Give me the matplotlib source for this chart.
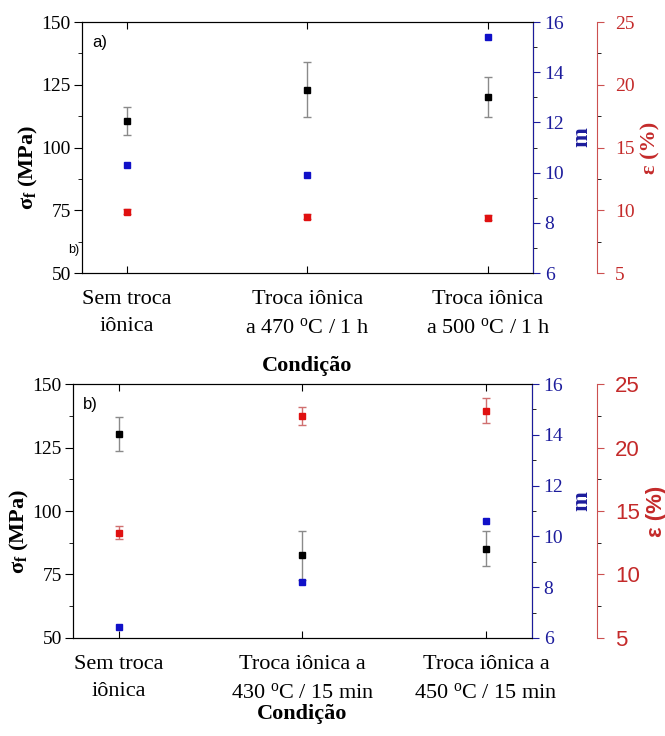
import matplotlib

matplotlib.use("Agg")
import matplotlib.pyplot as plt
from matplotlib.ticker import MultipleLocator

plt.rcParams["font.family"] = ["Liberation Serif", "DejaVu Serif"]
plt.rcParams["mathtext.fontset"] = "custom"
plt.rcParams["mathtext.rm"] = "Liberation Serif"
plt.rcParams["mathtext.bf"] = "Liberation Serif:bold"
plt.rcParams["mathtext.it"] = "Liberation Serif:italic"

# ---- data -------------------------------------------------------------
cond_a = ["Sem troca\niônica",
          "Troca iônica\na 470 $^{\\rm o}$C / 1 h",
          "Troca iônica\na 500 $^{\\rm o}$C / 1 h"]
sigma_a = [110.5, 123.0, 120.0]
sigma_a_err = [5.5, 11.0, 8.0]
m_a = [10.3, 9.9, 15.4]
eps_a = [9.9, 9.5, 9.4]
eps_a_err = [0.2, 0.2, 0.2]

cond_b = ["Sem troca\niônica",
          "Troca iônica a\n430 $^{\\rm o}$C / 15 min",
          "Troca iônica a\n450 $^{\\rm o}$C / 15 min"]
sigma_b = [130.2, 82.6, 85.2]
sigma_b_err = [6.7, 9.7, 7.0]
m_b = [6.45, 8.2, 10.6]
eps_b = [13.3, 22.5, 22.9]
eps_b_err = [0.5, 0.7, 1.0]

BLUE = "#1c1c9c"
RED = "#c42a2a"
RED_SPINE = "#cc5050"


def panel(fig, rect, tag, cond, sigma, sigma_err, m, eps, eps_err, eps_font,
          xlab_pad, ylab_x):
    ax = fig.add_axes(rect)
    x = range(len(cond))

    ax.errorbar(x, sigma, yerr=sigma_err, fmt="s", ms=4.5, color="black",
                ecolor="#8a8a8a", elinewidth=1, capsize=3, zorder=5)
    ax.set_xlim(-0.25, 2.25)
    ax.set_ylim(50, 150)
    ax.yaxis.set_major_locator(MultipleLocator(25))
    ax.yaxis.set_minor_locator(MultipleLocator(12.5))
    ax.set_xticks(list(x))
    ax.set_xticklabels(cond, fontsize=16, linespacing=1.6)
    ax.tick_params(axis="x", direction="in", top=True, length=5, pad=12)
    ax.tick_params(axis="y", direction="out", labelsize=14, length=6, pad=2)
    ax.tick_params(axis="y", which="minor", direction="out", length=3)
    ax.set_ylabel("$\\mathbf{σ_f}$ (MPa)", fontsize=16, fontweight="bold")
    ax.yaxis.set_label_coords(ylab_x, 0.42)
    ax.set_xlabel("Condição", fontsize=16, fontweight="bold", labelpad=xlab_pad)
    ax.text(0.022, 0.92, tag, transform=ax.transAxes, fontsize=12,
            family="Liberation Sans", va="center")

    # Weibull modulus on the first right axis
    axm = ax.twinx()
    axm.plot(x, m, "s", ms=4.5, color="#1010c8", zorder=5)
    axm.set_ylim(6, 16)
    axm.yaxis.set_major_locator(MultipleLocator(2))
    axm.yaxis.set_minor_locator(MultipleLocator(1))
    axm.tick_params(axis="y", colors=BLUE, labelsize=14, length=5)
    axm.tick_params(axis="y", which="minor", length=3)
    axm.spines["right"].set_color(BLUE)
    axm.set_ylabel("m", color=BLUE, fontsize=17, fontweight="bold")
    axm.yaxis.set_label_coords(1.085, 0.54)

    # strain on an offset second right axis
    axe = ax.twinx()
    axe.spines["right"].set_position(("axes", 1.142))
    for s in ("top", "bottom", "left"):
        axe.spines[s].set_visible(False)
    axe.spines["right"].set_color(RED_SPINE)
    axe.errorbar(x, eps, yerr=eps_err, fmt="s", ms=5, color="#e01010",
                 ecolor="#d07070", elinewidth=1, capsize=3, zorder=5)
    axe.set_ylim(5, 25)
    axe.yaxis.set_major_locator(MultipleLocator(5))
    axe.yaxis.set_minor_locator(MultipleLocator(2.5))
    axe.tick_params(axis="y", colors=RED_SPINE, labelcolor=RED, length=5, pad=8)
    axe.tick_params(axis="y", which="minor", length=3)
    for lab in axe.get_yticklabels():
        lab.set_family(eps_font)
        lab.set_fontsize(16 if eps_font == "Liberation Sans" else 14)
    axe.set_ylabel("ε (%)", color=RED, fontsize=16, fontweight="bold",
                   family=eps_font, labelpad=4)
    return ax


fig = plt.figure(figsize=(6.65, 7.36), dpi=100)

panel(fig, [0.1233, 0.629, 0.678, 0.341], "a)", cond_a,
      sigma_a, sigma_a_err, m_a, eps_a, eps_a_err, "Liberation Serif", 13, -0.093)
panel(fig, [0.1098, 0.1332, 0.690, 0.345], "b)", cond_b,
      sigma_b, sigma_b_err, m_b, eps_b, eps_b_err, "Liberation Sans", 1, -0.092)

# stray panel tag left over next to the upper axis
fig.text(68 / 665, 1 - 250 / 736, "b)", fontsize=9, family="Liberation Sans",
         va="center")

fig.savefig("out.png", dpi=100)
